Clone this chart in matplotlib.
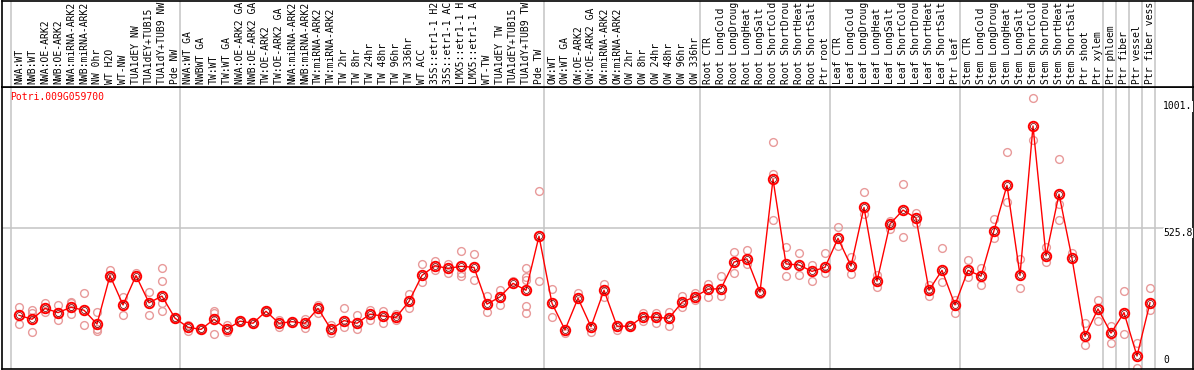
import numpy as np
import matplotlib
matplotlib.use("Agg")
import matplotlib.pyplot as plt

gene = "Potri.009G059700"

# header labels as far as they show in the reference (longer ones are cut)
labels = [
    "NWA:WT", "NWB:WT", "NWA:OE-ARK2", "NWB:OE-ARK2", "NWA:miRNA-ARK2", "NWB:miRNA-ARK2",
    "NW 0hr", "WT H2O", "WT-NW", "TUA1dEY NW", "TUA1dEY+TUB15", "TUA1dY+TUB9 NW", "Pde NW",
    "NWA:WT GA", "NWBWT GA", "TW:WT", "TW:WT GA", "NWA:OE-ARK2 GA", "NWB:OE-ARK2 GA",
    "TW:OE-ARK2", "TW:OE-ARK2 GA", "NWA:miRNA-ARK2", "NWB:miRNA-ARK2", "TW:miRNA-ARK2",
    "TW:miRNA-ARK2", "TW 2hr", "TW 8hr", "TW 24hr", "TW 48hr", "TW 96hr", "TW 336hr", "WT ACC",
    "35S::etr1-1 H2", "35S::etr1-1 AC", "LMX5::etr1-1 H", "LMX5::etr1-1 A", "WT-TW",
    "TUA1dEY TW", "TUA1dEY+TUB15", "TUA1dY+TUB9 TW", "Pde TW",
    "OW:WT", "OW:WT GA", "OW:OE-ARK2", "OW:OE-ARK2 GA", "OW:miRNA-ARK2", "OW:miRNA-ARK2",
    "OW 2hr", "OW 8hr", "OW 24hr", "OW 48hr", "OW 96hr", "OW 336hr",
    "Root CTR", "Root LongCold", "Root LongDroug", "Root LongHeat", "Root LongSalt",
    "Root ShortCold", "Root ShortDrou", "Root ShortHeat", "Root ShortSalt", "Ptr root",
    "Leaf CTR", "Leaf LongCold", "Leaf LongDroug", "Leaf LongHeat", "Leaf LongSalt",
    "Leaf ShortCold", "Leaf ShortDrou", "Leaf ShortHeat", "Leaf ShortSalt", "Ptr leaf",
    "Stem CTR", "Stem LongCold", "Stem LongDroug", "Stem LongHeat", "Stem LongSalt",
    "Stem ShortCold", "Stem ShortDrou", "Stem ShortHeat", "Stem ShortSalt", "Ptr shoot",
    "Ptr xylem", "Ptr phloem", "Ptr fiber", "Ptr vessel", "Ptr fiber vess",
]

means = [
    198, 183, 224, 208, 228, 217, 165, 347, 237, 347, 245, 270, 187,
    153, 145, 183, 146, 176, 168, 213, 168, 174, 168, 224, 145, 178, 168, 202, 195, 190,
    250, 348, 384, 374, 382, 378, 240, 267, 318, 292, 495,
    243, 143, 262, 155, 292, 157, 157, 193, 190, 187, 247, 268,
    296, 298, 398, 410, 285, 709, 391, 387, 363, 378,
    487, 383, 603, 326, 541, 593, 563, 292, 367, 237,
    367, 345, 516, 686, 348, 909, 421, 653, 412, 119, 222,
    131, 208, 45, 245,
]

reps = [
    [229, 164], [218, 205, 134], [243, 212], [237, 180], [248, 243, 203], [282, 160],
    [212, 145, 140], [368, 337], [265, 199], [355], [285, 199], [376, 327, 243, 214], [187],
    [161, 140], [145], [215, 205, 126], [161, 134], [176], [168], [213], [180, 153], [174],
    [184, 150], [237, 208], [161, 133], [224, 153], [199, 146], [218, 180], [215, 168], [203, 180],
    [278, 225], [391, 324], [402, 368], [391, 355], [438, 355, 347], [427, 330], [270, 212],
    [293, 237], [328], [374, 343, 330, 233, 208], [665, 325],
    [295, 193], [130], [280], [136], [315, 268], [143], [156], [208, 178], [208, 170],
    [212, 156], [270, 228], [283, 255],
    [314, 268], [345, 270], [434, 355], [443, 391], [278], [847, 728, 556], [453, 345],
    [431, 349], [387, 328], [431, 355],
    [528, 458], [418, 353], [661, 578], [349, 305], [553, 521], [691, 493], [583, 543],
    [312, 270], [449, 324], [255, 205],
    [406, 343], [374, 312], [558, 487], [811, 625], [408, 299], [1014, 856], [453, 399],
    [785, 616, 556], [433], [168, 86], [255, 178],
    [158, 93], [288, 128], [95, 0], [300, 218],
]

group_edges = [-0.5, 12.5, 40.5, 52.5, 62.5, 72.5, 83.5, 84.5, 85.5, 86.5, 87.5]
ytick_vals = [0, 525.8, 1001]
ytick_text = ["0", "525.8", "1001."]

W, H = 1194, 370
fig = plt.figure(figsize=(W / 100, H / 100), dpi=100)

# pixel layout: point i sits at x = 19 + 13 i
x_lo = (1.5 - 19) / 13
x_hi = (1193 - 19) / 13
px_per_val = 280 / 1051.6

ax = fig.add_axes([1.5 / W, 1 / H, (1193 - 1.5) / W, 282 / H])
ax.set_xlim(x_lo, x_hi)
ax.set_ylim(-1 / px_per_val, 281 / px_per_val)

hdr = fig.add_axes([1.5 / W, 283 / H, (1193 - 1.5) / W, 86.5 / H])
hdr.set_xlim(x_lo, x_hi)
hdr.set_ylim(87, 0)

for a in (ax, hdr):
    a.set_xticks([])
    a.set_yticks([])
    for s in a.spines.values():
        s.set_color("black")
        s.set_linewidth(1.2)
    for e in group_edges:
        a.axvline(e - 0.1, color="#c4c4c4", lw=1.1, zorder=0)

ax.plot([x_lo, 88.0], [525.8, 525.8], color="#c4c4c4", lw=1.1, zorder=0)

x = np.arange(len(means))
for i, r in enumerate(reps):
    ax.plot([i] * len(r), r, "o", ms=5.6, mfc="none", mec="#e89a9a", mew=1.0, zorder=2)
ax.plot(x, means, "-", color="red", lw=1.0, zorder=3)
ax.plot(x, means, "o", ms=6.8, mfc="none", mec="red", mew=1.4, zorder=4)
ax.plot(x, means, "o", ms=4.3, mfc="none", mec="#7a0000", mew=0.55, zorder=5)

for v, t in zip(ytick_vals, ytick_text):
    if v == 0:
        ax.annotate(t, (88.0, 0), xytext=(0, 3), textcoords="offset pixels",
                    ha="left", va="bottom", fontsize=7, family="DejaVu Sans Mono")
    else:
        ax.text(88.0, v, t, ha="left", va="top", fontsize=7, family="DejaVu Sans Mono",
                bbox=dict(facecolor="white", edgecolor="none", pad=0.3))

fig.text(10 / W, 1 - 92 / H, gene, color="red", ha="left", va="top",
         fontsize=7, family="DejaVu Sans Mono")

for i, lab in enumerate(labels):
    hdr.text(i, 84, lab, rotation=90, ha="center", va="bottom",
             fontsize=7, family="DejaVu Sans Mono")

fig.savefig("out.png", dpi=100)
